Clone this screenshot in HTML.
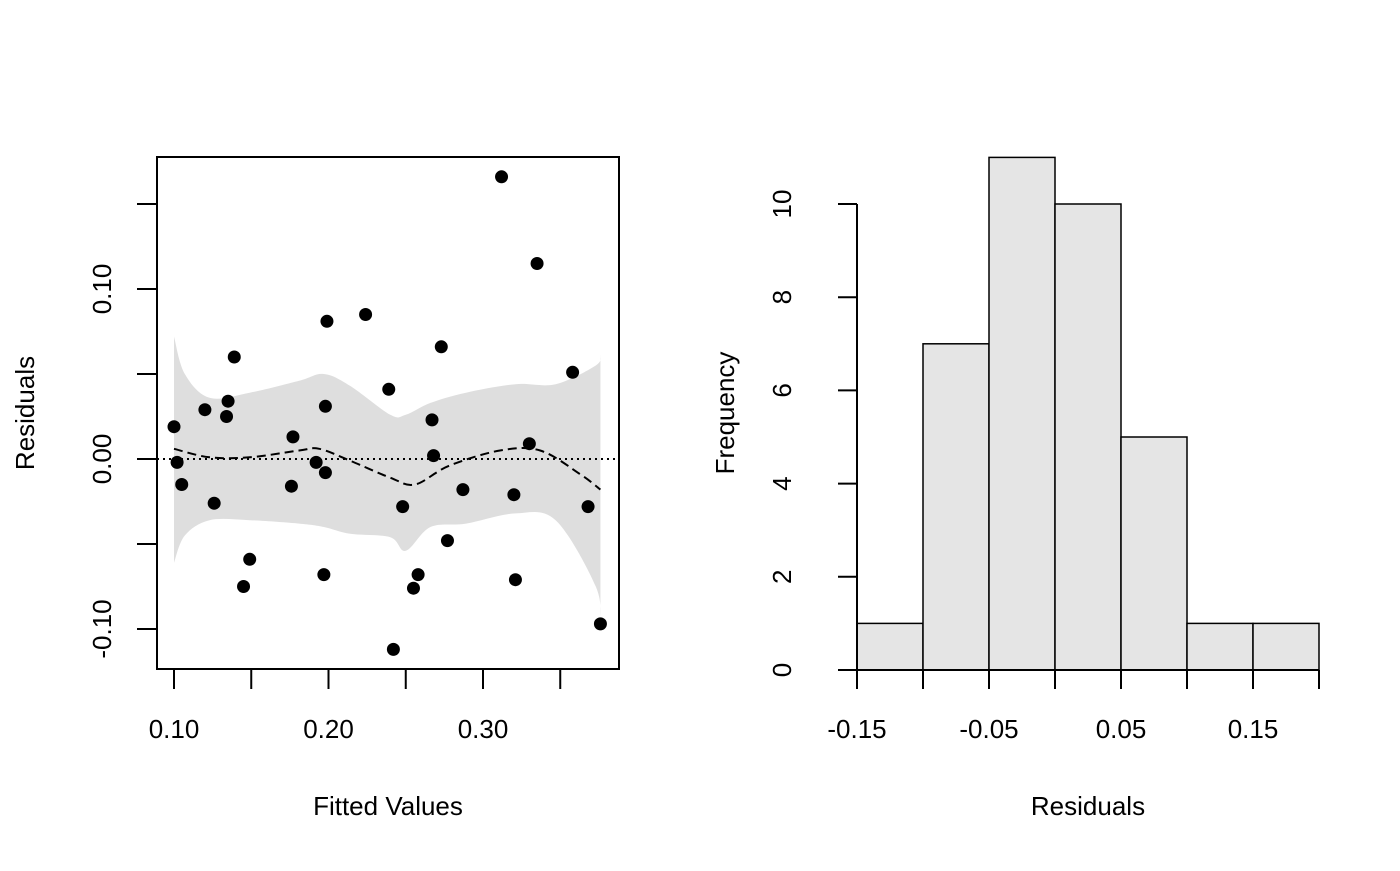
<!DOCTYPE html>
<html><head><meta charset="utf-8"><style>
body{margin:0;background:#fff}
svg text{font-family:"Liberation Sans",Arial,sans-serif;font-size:26px;fill:#000}
</style></head><body>
<svg id="c" width="1400" height="866"></svg>
<script>
// Left plot data
const fitted=[.100,.102,.105,.120,.126,.134,.135,.139,.145,.149,.176,.177,.192,.198,.197,.198,.199,.224,.239,.242,.248,.255,.258,.267,.268,.273,.277,.287,.312,.320,.321,.330,.335,.358,.368,.376];
const resid=[.019,-.002,-.015,.029,-.026,.025,.034,.060,-.075,-.059,-.016,.013,-.002,-.008,-.068,.031,.081,.085,.041,-.112,-.028,-.076,-.068,.023,.002,.066,-.048,-.018,.166,-.021,-.071,.009,.115,.051,-.028,-.097];
const bandX=[.100,.107,.123,.149,.181,.197,.214,.240,.250,.266,.289,.321,.347,.373,.376];
const bandUp=[.072,.050,.036,.039,.046,.050,.043,.026,.026,.033,.039,.044,.044,.055,.061];
const bandLo=[-.061,-.045,-.036,-.036,-.038,-.040,-.044,-.046,-.054,-.040,-.038,-.032,-.036,-.075,-.097];
const smoothX=[.100,.123,.149,.181,.194,.214,.240,.256,.278,.311,.337,.363,.376];
const smoothY=[.006,.001,.001,.005,.006,-.001,-.011,-.015,-.004,.005,.005,-.009,-.018];
const xTicks=[.10,.15,.20,.25,.30,.35];
const xLabels=["0.10","","0.20","","0.30",""];
const yTicks=[-.10,-.05,0,.05,.10,.15];
const yLabels=["-0.10","","0.00","","0.10",""];
// Right plot data
const breaks=[-.15,-.10,-.05,0,.05,.10,.15,.20];
const counts=[1,7,11,10,5,1,1];
const hxLabels=["-0.15","","-0.05","","0.05","","0.15",""];
const hyTicks=[0,2,4,6,8,10];

const svg=document.getElementById('c');const NS='http://www.w3.org/2000/svg';
function el(t,a,p){const e=document.createElementNS(NS,t);for(const k in a)e.setAttribute(k,a[k]);(p||svg).appendChild(e);return e;}
const X=v=>174+(v-.10)*1545, Y=v=>459-v*1700;
const HX=v=>857+(v+.15)*1320, HY=v=>670-v*46.6;
function curve(pts,start){let d=start?'M'+pts[0][0]+','+pts[0][1]:'L'+pts[0][0]+','+pts[0][1];
for(let i=0;i<pts.length-1;i++){const p0=pts[Math.max(0,i-1)],p1=pts[i],p2=pts[i+1],p3=pts[Math.min(pts.length-1,i+2)];
d+=`C${p1[0]+(p2[0]-p0[0])/6},${p1[1]+(p2[1]-p0[1])/6} ${p2[0]-(p3[0]-p1[0])/6},${p2[1]-(p3[1]-p1[1])/6} ${p2[0]},${p2[1]}`;}return d;}

const up=bandX.map((x,i)=>[X(x),Y(bandUp[i])]);
const lo=bandX.map((x,i)=>[X(x),Y(bandLo[i])]).reverse();
const band=el('path',{d:curve(up,true)+curve(lo,false)+'Z',fill:'#dedede'});


const zl=el('line',{x1:157,x2:619,y1:Y(0),y2:Y(0),stroke:'#000','stroke-width':2,'stroke-dasharray':'2,4'});


const sm=el('path',{d:curve(smoothX.map((x,i)=>[X(x),Y(smoothY[i])]),true),fill:'none',stroke:'#000','stroke-width':2,'stroke-dasharray':'9,5'});


fitted.forEach((f,i)=>{const c=el('circle',{cx:X(f),cy:Y(resid[i]),r:6.5,fill:'#000'});

});
const box=el('rect',{x:157,y:157,width:462,height:512,fill:'none',stroke:'#000','stroke-width':2});


xTicks.forEach((t,i)=>{el('line',{x1:X(t),x2:X(t),y1:669,y2:689,stroke:'#000','stroke-width':2});
if(xLabels[i]){const tx=el('text',{x:X(t),y:738,'text-anchor':'middle'});tx.textContent=xLabels[i];

}});
yTicks.forEach((t,i)=>{el('line',{x1:137,x2:157,y1:Y(t),y2:Y(t),stroke:'#000','stroke-width':2});
if(yLabels[i]){const tx=el('text',{x:0,y:0,'text-anchor':'middle',transform:`translate(111,${Y(t)}) rotate(-90)`});tx.textContent=yLabels[i];

}});
let t1=el('text',{x:388,y:815,'text-anchor':'middle'});t1.textContent='Fitted Values';


let t2=el('text',{x:0,y:0,'text-anchor':'middle',transform:'translate(34,413) rotate(-90)'});t2.textContent='Residuals';



// histogram
counts.forEach((c,i)=>{const r=el('rect',{x:HX(breaks[i]),y:HY(c),width:HX(breaks[i+1])-HX(breaks[i]),height:HY(0)-HY(c),fill:'#e5e5e5',stroke:'#000','stroke-width':1.5});

});
el('line',{x1:HX(-.15),x2:HX(.20),y1:670,y2:670,stroke:'#000','stroke-width':2});
breaks.forEach((b,i)=>{el('line',{x1:HX(b),x2:HX(b),y1:670,y2:689,stroke:'#000','stroke-width':2});
if(hxLabels[i]){const tx=el('text',{x:HX(b),y:738,'text-anchor':'middle'});tx.textContent=hxLabels[i];

}});
el('line',{x1:857,x2:857,y1:HY(0),y2:HY(10),stroke:'#000','stroke-width':2});
hyTicks.forEach(t=>{el('line',{x1:838,x2:857,y1:HY(t),y2:HY(t),stroke:'#000','stroke-width':2});
const tx=el('text',{x:0,y:0,'text-anchor':'middle',transform:`translate(791,${HY(t)}) rotate(-90)`});tx.textContent=t;

});
let t3=el('text',{x:1088,y:815,'text-anchor':'middle'});t3.textContent='Residuals';


let t4=el('text',{x:0,y:0,'text-anchor':'middle',transform:'translate(734,413) rotate(-90)'});t4.textContent='Frequency';


</script>
</body></html>
